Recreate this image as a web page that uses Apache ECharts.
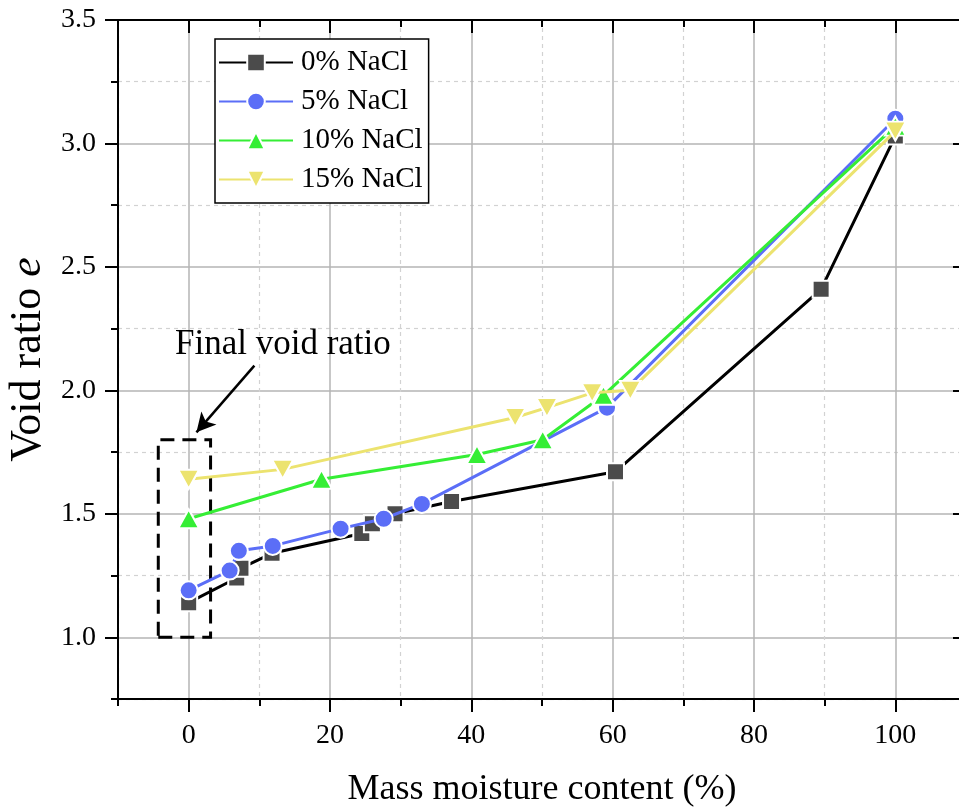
<!DOCTYPE html>
<html>
<head>
<meta charset="utf-8">
<script src="https://cdn.jsdelivr.net/npm/echarts@6/dist/echarts.min.js"></script>
<style>
  html, body { margin: 0; padding: 0; background: #fff; }
  #chart { width: 959px; height: 808px; }
</style>
</head>
<body>
<div id="chart"></div>
<script>
// Void ratio vs. mass moisture content for four NaCl contents
const seriesNames = ['0% NaCl', '5% NaCl', '10% NaCl', '15% NaCl'];

const moist0 = [0, 6.8, 7.4, 11.8, 24.5, 26.0, 29.2, 37.2, 60.4, 89.5, 100];
const void0  = [1.14, 1.24, 1.28, 1.34, 1.42, 1.46, 1.50, 1.55, 1.67, 2.41, 3.03];

const moist5 = [0, 5.8, 7.1, 11.9, 21.5, 27.6, 33.0, 59.2, 100];
const void5  = [1.19, 1.27, 1.35, 1.37, 1.44, 1.48, 1.54, 1.93, 3.10];

const moist10 = [0, 18.8, 40.8, 50.1, 58.7, 100];
const void10  = [1.48, 1.64, 1.74, 1.80, 1.98, 3.07];

const moist15 = [0, 13.3, 46.2, 50.7, 57.1, 62.5, 100];
const void15  = [1.64, 1.68, 1.89, 1.93, 1.99, 2.00, 3.05];

// axis ranges and labelled ticks
const xRange = [-10, 110], xStep = 10;
const yRange = [0.75, 3.5], yStep = 0.25;
const xMajorTicks = [0, 20, 40, 60, 80, 100];
const yMajorTicks = [1.0, 1.5, 2.0, 2.5, 3.0, 3.5];

// dashed box around the dry-state points and the arrow pointing at it
const boxCorners = [[-4.3, 1.0], [3.1, 1.8]];
const arrowFrom = [9.3, 2.10];
const arrowTo = [1.1, 1.83];
const annotationText = 'Final void ratio';

const FONT = '"Liberation Serif", "Times New Roman", serif';
const CLEAR = 'rgba(0,0,0,0)';
const MAJOR_GRID = '#b5b5b5';
const MINOR_GRID = '#d2d2d2';

const pairs = (xs, ys) => xs.map((x, i) => [x, ys[i]]);

const colors = {
  line: ['#000000', '#5b6ef7', '#35ee35', '#ece36f'],
  fill: ['#4b4b4b', '#5b6ef7', '#35ee35', '#ece36f']
};
const symbols = ['rect', 'circle', 'triangle', 'path://M0,0 L20,0 L10,18 Z'];
const symbolSizes = [17, 18, [21, 19], [21, 19]];
const datasets = [pairs(moist0, void0), pairs(moist5, void5), pairs(moist10, void10), pairs(moist15, void15)];

const axisLine = { show: true, onZero: false, lineStyle: { color: '#000', width: 2 } };

function xAxisBase(extra) {
  return Object.assign({
    type: 'value', min: xRange[0], max: xRange[1], interval: xStep,
    axisLine: axisLine, axisLabel: { show: false }, splitLine: { show: false },
    axisTick: { show: false }
  }, extra);
}
function yAxisBase(extra) {
  return Object.assign({
    type: 'value', min: yRange[0], max: yRange[1], interval: yStep,
    axisLine: axisLine, axisLabel: { show: false }, splitLine: { show: false },
    axisTick: { show: false }
  }, extra);
}

const series = datasets.map((d, i) => ({
  name: seriesNames[i],
  type: 'line',
  data: d,
  symbol: symbols[i],
  symbolSize: symbolSizes[i],
  xAxisIndex: 0,
  yAxisIndex: 0,
  lineStyle: { color: colors.line[i], width: 3 },
  itemStyle: { color: colors.fill[i], borderColor: '#fff', borderWidth: 2 },
  z: 3 + i
}));

series[0].markArea = {
  silent: true,
  itemStyle: { color: CLEAR, borderColor: '#000', borderWidth: 3, borderType: [14, 8] },
  data: [[{ coord: boxCorners[0] }, { coord: boxCorners[1] }]]
};
series[0].markLine = {
  silent: true,
  symbol: ['none', 'arrow'],
  symbolSize: [15, 19],
  label: { show: false },
  lineStyle: { color: '#000', width: 2.5, type: 'solid' },
  data: [[{ coord: arrowFrom }, { coord: arrowTo }]]
};

const option = {
  animation: false,
  backgroundColor: '#fff',
  grid: { left: 118, top: 20, width: 848, height: 679, containLabel: false, outerBoundsMode: 'none' },
  legend: {
    orient: 'vertical',
    left: 215, top: 39,
    padding: [8, 6, 8, 3],
    itemWidth: 74, itemHeight: 22, itemGap: 8,
    backgroundColor: '#fff',
    borderColor: '#000', borderWidth: 1.5, borderRadius: 0,
    textStyle: { fontFamily: FONT, fontSize: 29, color: '#000', lineHeight: 31, padding: [0, 0, 0, 3] },
    data: seriesNames
  },
  xAxis: [
    // labelled bottom axis
    xAxisBase({
      position: 'bottom',
      name: 'Mass moisture content (%)',
      nameLocation: 'middle', nameGap: 73,
      nameTextStyle: { fontFamily: FONT, fontSize: 36, color: '#000' },
      axisTick: { show: true, inside: false, length: 13, lineStyle: { width: 2, color: '#000' }, customValues: xMajorTicks },
      axisLabel: { show: true, margin: 23, fontFamily: FONT, fontSize: 28, color: '#000', customValues: xMajorTicks }
    }),
    // minor ticks and solid major grid
    xAxisBase({
      position: 'bottom',
      axisTick: { show: true, inside: false, length: 7, lineStyle: { width: 2, color: '#000' } },
      splitLine: { show: true, lineStyle: { color: [CLEAR, MAJOR_GRID], width: 1.5 } }
    }),
    // top frame: minor ticks and dashed minor grid
    xAxisBase({
      position: 'top',
      axisTick: { show: true, inside: true, length: 7, lineStyle: { width: 2, color: '#000' } },
      splitLine: { show: true, lineStyle: { color: [MINOR_GRID, CLEAR], width: 1.2, type: [4, 4] } }
    }),
    xAxisBase({
      position: 'top',
      axisTick: { show: true, inside: true, length: 13, lineStyle: { width: 2, color: '#000' }, customValues: xMajorTicks }
    })
  ],
  yAxis: [
    yAxisBase({
      position: 'left',
      name: 'Void ratio {i|e}',
      nameLocation: 'middle', nameGap: 62,
      nameTextStyle: {
        fontFamily: FONT, fontSize: 44, color: '#000',
        rich: { i: { fontFamily: FONT, fontSize: 44, fontStyle: 'italic', color: '#000' } }
      },
      axisTick: { show: true, inside: false, length: 13, lineStyle: { width: 2, color: '#000' }, customValues: yMajorTicks },
      axisLabel: {
        show: true, margin: 22, fontFamily: FONT, fontSize: 28, color: '#000',
        customValues: yMajorTicks, formatter: v => v.toFixed(1)
      }
    }),
    yAxisBase({
      position: 'left',
      axisTick: { show: true, inside: false, length: 7, lineStyle: { width: 2, color: '#000' } },
      splitLine: { show: true, lineStyle: { color: [CLEAR, MAJOR_GRID], width: 1.5 } }
    }),
    yAxisBase({
      position: 'right',
      axisTick: { show: true, inside: true, length: 7, lineStyle: { width: 2, color: '#000' } },
      splitLine: { show: true, lineStyle: { color: [MINOR_GRID, CLEAR], width: 1.2, type: [4, 4] } }
    }),
    yAxisBase({
      position: 'right',
      axisTick: { show: true, inside: true, length: 13, lineStyle: { width: 2, color: '#000' }, customValues: yMajorTicks }
    })
  ],
  graphic: [{
    type: 'text',
    left: 175, top: 327,
    silent: true,
    style: { text: annotationText, font: '35px ' + FONT, fill: '#000' },
    z: 10
  }],
  series: series
};

const chart = echarts.init(document.getElementById('chart'), null, { renderer: 'canvas' });
chart.setOption(option);
</script>
</body>
</html>
